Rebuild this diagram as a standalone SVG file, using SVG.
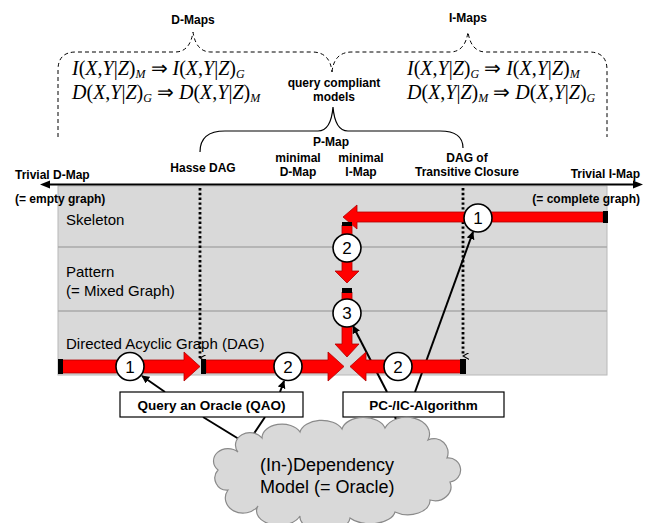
<svg xmlns="http://www.w3.org/2000/svg" width="650" height="523" viewBox="0 0 650 523">
<defs>
<style>
.b{font-family:"Liberation Sans",Arial,sans-serif;font-weight:bold;font-size:12px;fill:#000}
.r{font-family:"Liberation Sans",Arial,sans-serif;font-size:15px;fill:#000}
.f{font-family:"Liberation Serif","Times New Roman",serif;font-size:20px;fill:#000}
.i{font-style:italic}
.s{font-style:italic;font-size:12px}
.dash{fill:none;stroke:#000;stroke-width:1;stroke-dasharray:4 3}
.solid{fill:none;stroke:#000;stroke-width:1.2}
.red{fill:#ff0000;stroke:#b00000;stroke-width:0.8}
.cap{fill:#000}
.circ{fill:#fff;stroke:#000;stroke-width:1.6}
.num{font-family:"Liberation Sans",Arial,sans-serif;font-size:17px;fill:#000;text-anchor:middle}
.dot{fill:none;stroke:#000;stroke-width:2.8;stroke-dasharray:2.4 2.4}
.con{fill:none;stroke:#000;stroke-width:2}
.box{fill:#fff;stroke:#000;stroke-width:1.2}
.bt{font-family:"Liberation Sans",Arial,sans-serif;font-weight:bold;font-size:13.5px;fill:#000;text-anchor:middle}
</style>
<marker id="ah" viewBox="0 0 10 10" refX="9" refY="5" markerWidth="4" markerHeight="4" orient="auto" markerUnits="strokeWidth">
<path d="M0,0 L10,5 L0,10 Z" fill="#000"/>
</marker>
<marker id="vh" viewBox="0 0 10 10" refX="5" refY="9" markerWidth="7" markerHeight="7" orient="auto-start-reverse" markerUnits="userSpaceOnUse">
<path d="M0,0 L5,9 L10,0" fill="none" stroke="#000" stroke-width="1.6"/>
</marker>
</defs>

<g id="panel">
<rect x="58" y="186" width="549" height="189" fill="#d9d9d9" stroke="#b8b8b8" stroke-width="1"/>
<line x1="58" y1="247" x2="607" y2="247" stroke="#a8a8a8" stroke-width="1.5"/>
<line x1="58" y1="311" x2="607" y2="311" stroke="#a8a8a8" stroke-width="1.5"/>
<text class="r" x="66" y="225">Skeleton</text>
<text class="r" x="66" y="277">Pattern</text>
<text class="r" x="66" y="296">(= Mixed Graph)</text>
<text class="r" x="66" y="349">Directed Acyclic Graph (DAG)</text>
</g>

<g id="dmaps">
<path class="dash" d="M58,137 L58,70 Q58,52 76,52 L175,52 Q190,52 193,32 Q196,52 211,52 L312,52 Q330,52 332,72"/>
<text class="b" x="193" y="24" text-anchor="middle">D-Maps</text>
<text class="f" x="72" y="75"><tspan class="i">I</tspan>(<tspan class="i">X</tspan>,<tspan class="i">Y</tspan>|<tspan class="i">Z</tspan>)<tspan class="s" dy="3">M</tspan><tspan dy="-3"> ⇒ </tspan><tspan class="i">I</tspan>(<tspan class="i">X</tspan>,<tspan class="i">Y</tspan>|<tspan class="i">Z</tspan>)<tspan class="s" dy="3">G</tspan></text>
<text class="f" x="72" y="99"><tspan class="i">D</tspan>(<tspan class="i">X</tspan>,<tspan class="i">Y</tspan>|<tspan class="i">Z</tspan>)<tspan class="s" dy="3">G</tspan><tspan dy="-3"> ⇒ </tspan><tspan class="i">D</tspan>(<tspan class="i">X</tspan>,<tspan class="i">Y</tspan>|<tspan class="i">Z</tspan>)<tspan class="s" dy="3">M</tspan></text>
</g>

<g id="imaps">
<path class="dash" d="M332,72 Q334,52 352,52 L450,52 Q465,52 468,32 Q471,52 486,52 L589,52 Q607,52 607,70 L607,137"/>
<text class="b" x="468" y="22" text-anchor="middle">I-Maps</text>
<text class="f" x="407" y="75"><tspan class="i">I</tspan>(<tspan class="i">X</tspan>,<tspan class="i">Y</tspan>|<tspan class="i">Z</tspan>)<tspan class="s" dy="3">G</tspan><tspan dy="-3"> ⇒ </tspan><tspan class="i">I</tspan>(<tspan class="i">X</tspan>,<tspan class="i">Y</tspan>|<tspan class="i">Z</tspan>)<tspan class="s" dy="3">M</tspan></text>
<text class="f" x="407" y="99"><tspan class="i">D</tspan>(<tspan class="i">X</tspan>,<tspan class="i">Y</tspan>|<tspan class="i">Z</tspan>)<tspan class="s" dy="3">M</tspan><tspan dy="-3"> ⇒ </tspan><tspan class="i">D</tspan>(<tspan class="i">X</tspan>,<tspan class="i">Y</tspan>|<tspan class="i">Z</tspan>)<tspan class="s" dy="3">G</tspan></text>
</g>

<g id="query-compliant">
<text class="b" x="334" y="87" text-anchor="middle">query compliant</text>
<text class="b" x="334" y="101" text-anchor="middle">models</text>
</g>

<g id="pmap">
<path class="solid" d="M200,152 Q200,131 225,131 L318,131 Q331,131 333,107 Q335,131 348,131 L440,131 Q463,131 463,148"/>
<text class="b" x="331" y="146" text-anchor="middle">P-Map</text>
</g>

<g id="axis">
<line x1="48" y1="184.5" x2="636" y2="184.5" stroke="#000" stroke-width="2"/>
<path d="M40,184.5 L50,180.5 L50,188.5 Z" fill="#000"/>
<path d="M643,184.5 L633,180.5 L633,188.5 Z" fill="#000"/>
<text class="b" x="15" y="179">Trivial D-Map</text>
<text class="b" x="15" y="203">(= empty graph)</text>
<text class="b" x="640" y="178" text-anchor="end">Trivial I-Map</text>
<text class="b" x="640" y="203" text-anchor="end">(= complete graph)</text>
<text class="b" x="203" y="172" text-anchor="middle">Hasse DAG</text>
<text class="b" x="298" y="162" text-anchor="middle">minimal</text>
<text class="b" x="298" y="176" text-anchor="middle">D-Map</text>
<text class="b" x="361" y="162" text-anchor="middle">minimal</text>
<text class="b" x="361" y="176" text-anchor="middle">I-Map</text>
<text class="b" x="467" y="162" text-anchor="middle">DAG of</text>
<text class="b" x="467" y="176" text-anchor="middle">Transitive Closure</text>
</g>

<g id="connectors">
<line class="dot" x1="200" y1="188" x2="200" y2="358" marker-end="url(#vh)"/>
<line class="dot" x1="463" y1="188" x2="463" y2="356" marker-end="url(#vh)"/>
<line class="con" x1="165" y1="392" x2="142" y2="376" marker-end="url(#ah)"/>
<line class="con" x1="280" y1="392" x2="284" y2="381" marker-end="url(#ah)"/>
<line class="con" x1="387" y1="392" x2="353" y2="326" marker-end="url(#ah)"/>
<line class="con" x1="415" y1="392" x2="473" y2="232" marker-end="url(#ah)"/>
<line class="con" x1="203" y1="417" x2="247" y2="444"/>
<line class="con" x1="265" y1="417" x2="247" y2="444"/>
<line class="con" x1="395" y1="417" x2="400" y2="428"/>
<line class="con" x1="407" y1="417" x2="400" y2="428"/>
</g>

<g id="red-arrows">
<path class="red" d="M603,212 L357,212 L357,205 L343,217 L357,229 L357,222 L603,222 Z"/>
<rect class="cap" x="603" y="211" width="5" height="12"/>
<path class="red" d="M342,225 L342,271 L335,271 L347,283 L359,271 L352,271 L352,225 Z"/>
<rect class="cap" x="342" y="222" width="10" height="4"/>
<path class="red" d="M342,292 L342,344 L335,344 L347,357 L359,344 L352,344 L352,292 Z"/>
<rect class="cap" x="342" y="288" width="10" height="5"/>
<path class="red" d="M62,360 L184,360 L184,352 L200,366.5 L184,381 L184,373 L62,373 Z"/>
<rect class="cap" x="58" y="359" width="5" height="15"/>
<path class="red" d="M206,360 L328,360 L328,352 L344,366.5 L328,381 L328,373 L206,373 Z"/>
<rect class="cap" x="201" y="359" width="5" height="15"/>
<path class="red" d="M461,360 L366,360 L366,352 L350,366.5 L366,381 L366,373 L461,373 Z"/>
<rect class="cap" x="460" y="359" width="6" height="15"/>
</g>

<g id="step-1-top"><circle class="circ" cx="478" cy="218" r="14"/><text class="num" x="478" y="224">1</text></g>
<g id="step-2-vert"><circle class="circ" cx="347" cy="248" r="14"/><text class="num" x="347" y="254">2</text></g>
<g id="step-3-vert"><circle class="circ" cx="347" cy="313" r="14"/><text class="num" x="347" y="319">3</text></g>
<g id="step-1-bottom"><circle class="circ" cx="130" cy="366.5" r="14"/><text class="num" x="130" y="372.5">1</text></g>
<g id="step-2-bottom"><circle class="circ" cx="288" cy="366.5" r="14"/><text class="num" x="288" y="372.5">2</text></g>
<g id="step-2-right"><circle class="circ" cx="398" cy="366.5" r="14"/><text class="num" x="398" y="372.5">2</text></g>

<g id="qao">
<rect class="box" x="120" y="392" width="183" height="25"/>
<text class="bt" x="211.5" y="410">Query an Oracle (QAO)</text>
</g>

<g id="pc-ic">
<rect class="box" x="343" y="392" width="161" height="25"/>
<text class="bt" x="423.5" y="410">PC-/IC-Algorithm</text>
</g>

<g id="oracle">
<path d="M238,452 A14,12 0 0 1 262,438 A20,14 0 0 1 300,432 A22,14 0 0 1 342,429 A22,14 0 0 1 385,428 A22,16 0 0 1 428,440 A14,14 0 0 1 447,458 A12,12 0 0 1 450,482 A16,14 0 0 1 430,500 A22,14 0 0 1 395,512 A25,14 0 0 1 350,518 A25,14 0 0 1 300,516 A22,14 0 0 1 258,506 A14,12 0 0 1 228,490 A12,12 0 0 1 218,470 A14,12 0 0 1 238,452 Z" fill="#d9d9d9" stroke="#8a8a8a" stroke-width="1.2"/>
<text class="r" style="font-size:18px" x="260" y="471">(In-)Dependency</text>
<text class="r" style="font-size:18px" x="260" y="493">Model (= Oracle)</text>
</g>
</svg>
